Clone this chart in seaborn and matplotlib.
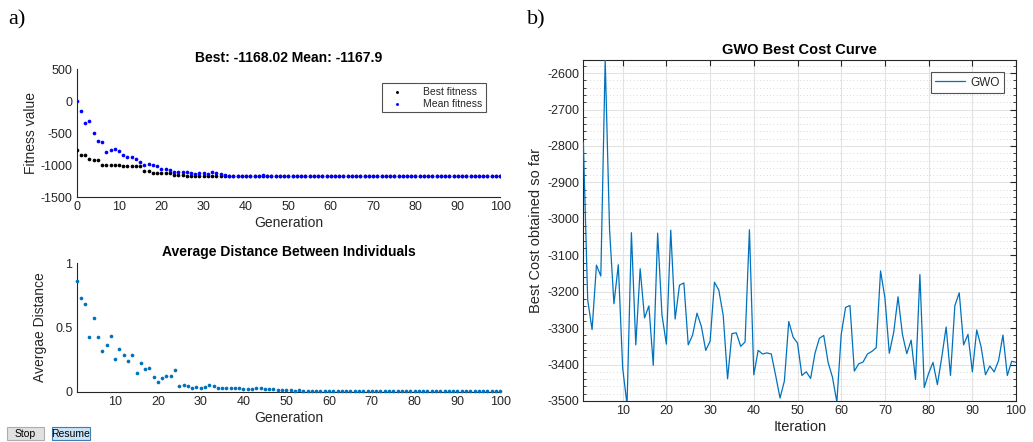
import numpy as np
import pandas as pd
import matplotlib
matplotlib.use("Agg")
import matplotlib.pyplot as plt
from matplotlib.ticker import MultipleLocator
from matplotlib.patches import Rectangle
import seaborn as sns

# ---------------- data ----------------
generations = list(range(0, 101))
best_fitness = [
    -763, -846, -846, -899, -924, -924, -1002, -1002, -1002, -1002,
    -1002, -1018, -1018, -1018, -1018, -1018, -1096, -1096, -1127, -1127,
    -1127, -1127, -1127, -1153, -1155, -1158, -1160, -1162, -1163, -1164,
    -1165, -1166, -1166, -1167, -1168, -1168, -1168, -1168, -1168, -1168,
    -1168, -1168, -1168, -1168, -1168, -1168, -1168, -1168, -1168, -1168,
    -1168, -1168, -1168, -1168, -1168, -1168, -1168, -1168, -1168, -1168,
    -1168, -1168, -1168, -1168, -1168, -1168, -1168, -1168, -1168, -1168,
    -1168, -1168, -1168, -1168, -1168, -1168, -1168, -1168, -1168, -1168,
    -1168, -1168, -1168, -1168, -1168, -1168, -1168, -1168, -1168, -1168,
    -1168, -1168, -1168, -1168, -1168, -1168, -1168, -1168, -1168, -1168,
    -1168.02,
]
mean_fitness = [
    10, -158, -340, -306, -495, -613, -629, -790, -764, -753,
    -782, -834, -875, -868, -895, -955, -992, -982, -1000, -1010,
    -1052, -1057, -1078, -1100, -1101, -1102, -1101, -1117, -1130, -1117,
    -1120, -1130, -1112, -1125, -1130, -1150, -1160, -1162, -1163, -1165,
    -1164, -1163, -1160, -1162, -1158, -1160, -1161, -1163, -1165, -1166,
    -1165, -1166, -1167, -1167, -1167, -1167, -1167, -1167, -1167, -1167,
    -1167, -1167, -1167, -1167, -1167, -1167, -1167, -1167, -1167, -1167,
    -1167, -1167, -1167, -1167, -1167, -1167, -1167, -1167, -1167, -1167,
    -1167, -1167, -1167, -1167, -1167, -1167, -1167, -1167, -1167, -1167,
    -1167, -1167, -1167, -1167, -1167, -1167, -1167, -1167, -1167, -1167,
    -1167.9,
]

dist_generations = list(range(1, 101))
avg_distance = [
    0.862, 0.732, 0.681, 0.424, 0.576, 0.426, 0.319, 0.361, 0.431, 0.255,
    0.330, 0.283, 0.239, 0.286, 0.146, 0.224, 0.174, 0.182, 0.114, 0.075,
    0.109, 0.122, 0.120, 0.169, 0.042, 0.050, 0.042, 0.026, 0.036, 0.026,
    0.039, 0.050, 0.045, 0.032, 0.029, 0.032, 0.026, 0.028, 0.030, 0.018,
    0.020, 0.020, 0.026, 0.028, 0.022, 0.022, 0.018, 0.012, 0.012, 0.014,
    0.010, 0.008, 0.010, 0.006, 0.005, 0.004, 0.004, 0.004, 0.003, 0.003,
    0.003, 0.003, 0.003, 0.003, 0.003, 0.003, 0.003, 0.003, 0.003, 0.003,
    0.003, 0.003, 0.003, 0.003, 0.003, 0.003, 0.003, 0.003, 0.003, 0.003,
    0.003, 0.003, 0.003, 0.003, 0.003, 0.003, 0.003, 0.003, 0.003, 0.003,
    0.003, 0.003, 0.003, 0.003, 0.003, 0.003, 0.003, 0.003, 0.003, 0.003,
]

iterations = list(range(1, 101))
gwo_cost = [
    -2790, -3223, -3304, -3127, -3157, -2563, -3030, -3233, -3126, -3410,
    -3510, -3038, -3346, -3137, -3272, -3239, -3402, -3039, -3265, -3344,
    -3031, -3275, -3182, -3176, -3346, -3319, -3259, -3295, -3361, -3336,
    -3174, -3196, -3265, -3439, -3315, -3313, -3350, -3338, -3030, -3428,
    -3361, -3371, -3368, -3371, -3430, -3492, -3445, -3282, -3325, -3341,
    -3430, -3420, -3438, -3369, -3328, -3320, -3394, -3435, -3503, -3317,
    -3243, -3238, -3418, -3398, -3393, -3371, -3364, -3354, -3143, -3217,
    -3369, -3312, -3214, -3317, -3370, -3333, -3441, -3153, -3463, -3424,
    -3394, -3455, -3380, -3297, -3430, -3238, -3203, -3346, -3317, -3420,
    -3305, -3351, -3428, -3404, -3420, -3389, -3319, -3430, -3391, -3394,
]

# ---------------- style ----------------
sns.set_theme(style="white")
plt.rcParams["font.family"] = ["Liberation Sans", "DejaVu Sans"]
plt.rcParams["axes.unicode_minus"] = False
TXT = "#262626"
MBLUE = "#0072BD"

fig = plt.figure(figsize=(10.33, 4.42), dpi=100)
fig.patch.set_facecolor("white")
W, H = 1033.0, 442.0


def matlab_axes(ax, box=False):
    for s in ax.spines.values():
        s.set_color(TXT)
        s.set_linewidth(0.8)
    if not box:
        ax.spines["top"].set_visible(False)
        ax.spines["right"].set_visible(False)
    ax.tick_params(direction="in", length=4, width=0.8, colors=TXT,
                   labelsize=9, top=box, right=box, pad=3)
    ax.set_facecolor("white")


# ---- a) top: fitness ----
ax1 = fig.add_axes([0.0742, 0.5536, 0.4100, 0.2896])
df_fit = pd.DataFrame({"gen": generations, "best": best_fitness, "mean": mean_fitness})
sns.scatterplot(data=df_fit, x="gen", y="best", ax=ax1, color="black", s=7,
                linewidth=0, label="Best fitness", zorder=3)
sns.scatterplot(data=df_fit, x="gen", y="mean", ax=ax1, color="#0000FF", s=7,
                linewidth=0, label="Mean fitness", zorder=4)
ax1.set_xlim(0, 100)
ax1.set_ylim(-1500, 500)
ax1.set_xticks(range(0, 101, 10))
ax1.set_yticks([-1500, -1000, -500, 0, 500])
matlab_axes(ax1)
ax1.set_xlabel("Generation", fontsize=10, color=TXT, labelpad=2)
ax1.set_ylabel("Fitness value", fontsize=10, color=TXT, labelpad=2)
ax1.set_title("Best: -1168.02 Mean: -1167.9", fontsize=10, fontweight="bold",
              color="black", pad=5)
leg1 = ax1.legend(loc="upper right", bbox_to_anchor=(0.978, 0.93), fontsize=7.5,
                  frameon=True, fancybox=False, edgecolor=TXT, markerscale=0.8,
                  handlelength=2.4, handletextpad=1.3, borderpad=0.3,
                  labelspacing=0.2)
leg1.get_frame().set_linewidth(0.8)

# ---- a) bottom: average distance ----
ax2 = fig.add_axes([0.0742, 0.1138, 0.4100, 0.2905])
df_dist = pd.DataFrame({"gen": dist_generations, "dist": avg_distance})
sns.scatterplot(data=df_dist, x="gen", y="dist", ax=ax2, color=MBLUE, s=7,
                linewidth=0, zorder=3, clip_on=False)
ax2.set_xlim(1, 100)
ax2.set_ylim(0, 1)
ax2.set_xticks(range(10, 101, 10))
ax2.set_yticks([0, 0.5, 1])
ax2.set_yticklabels(["0", "0.5", "1"])
matlab_axes(ax2)
ax2.set_xlabel("Generation", fontsize=10, color=TXT, labelpad=2)
ax2.set_ylabel("Avergae Distance", fontsize=10, color=TXT, labelpad=6)
ax2.set_title("Average Distance Between Individuals", fontsize=10,
              fontweight="bold", color="black", pad=5)

# ---- b) GWO best cost ----
ax3 = fig.add_axes([0.5647, 0.0928, 0.4189, 0.7722])
df_gwo = pd.DataFrame({"iter": iterations, "cost": gwo_cost})
sns.lineplot(data=df_gwo, x="iter", y="cost", ax=ax3, color=MBLUE, lw=0.9,
             label="GWO", zorder=3)
ax3.set_xlim(1, 100)
ax3.set_ylim(-3500, -2563)
ax3.set_xticks(range(10, 101, 10))
ax3.set_yticks(range(-3500, -2599, 100))
ax3.yaxis.set_minor_locator(MultipleLocator(20))
matlab_axes(ax3, box=True)
ax3.tick_params(which="minor", direction="in", length=2, width=0.6,
                colors=TXT, left=True, right=True)
ax3.set_axisbelow(True)
ax3.grid(True, which="major", color="#e3e3e3", lw=0.8)
ax3.grid(True, which="minor", axis="y", color="#cfcfcf", ls=(0, (1, 3)), lw=0.6)
ax3.set_xlabel("Iteration", fontsize=10.5, color=TXT, labelpad=2)
ax3.set_ylabel("Best Cost obtained so far", fontsize=10.5, color=TXT, labelpad=3)
ax3.set_title("GWO Best Cost Curve", fontsize=10.5, fontweight="bold",
              color="black", pad=4)
leg3 = ax3.legend(loc="upper right", bbox_to_anchor=(0.985, 0.98), fontsize=8.5,
                  frameon=True, fancybox=False, edgecolor=TXT,
                  handlelength=2.6, borderpad=0.35, handletextpad=0.4)
leg3.get_frame().set_linewidth(0.8)

# ---- panel letters ----
fig.text(0.008, 0.955, "a)", fontsize=16, family="Liberation Serif",
         color="black", va="center", ha="left")
fig.text(0.510, 0.955, "b)", fontsize=16, family="Liberation Serif",
         color="black", va="center", ha="left")

# ---- Stop / Resume buttons ----
def button(x0, x1, y0, y1, label, fc, ec):
    fig.patches.append(Rectangle((x0 / W, 1 - y1 / H), (x1 - x0) / W, (y1 - y0) / H,
                                 transform=fig.transFigure, fc=fc, ec=ec, lw=0.8))
    fig.text((x0 + x1) / 2 / W, 1 - (y0 + y1) / 2 / H, label, fontsize=7.5,
             color="black", ha="center", va="center_baseline")

button(6.7, 44.3, 427.3, 439.5, "Stop", "#e1e1e1", "#adadad")
button(51.7, 90.0, 427.3, 439.5, "Resume", "#cce4f7", "#3c7fb1")

fig.savefig("out.png", dpi=100, facecolor="white")
